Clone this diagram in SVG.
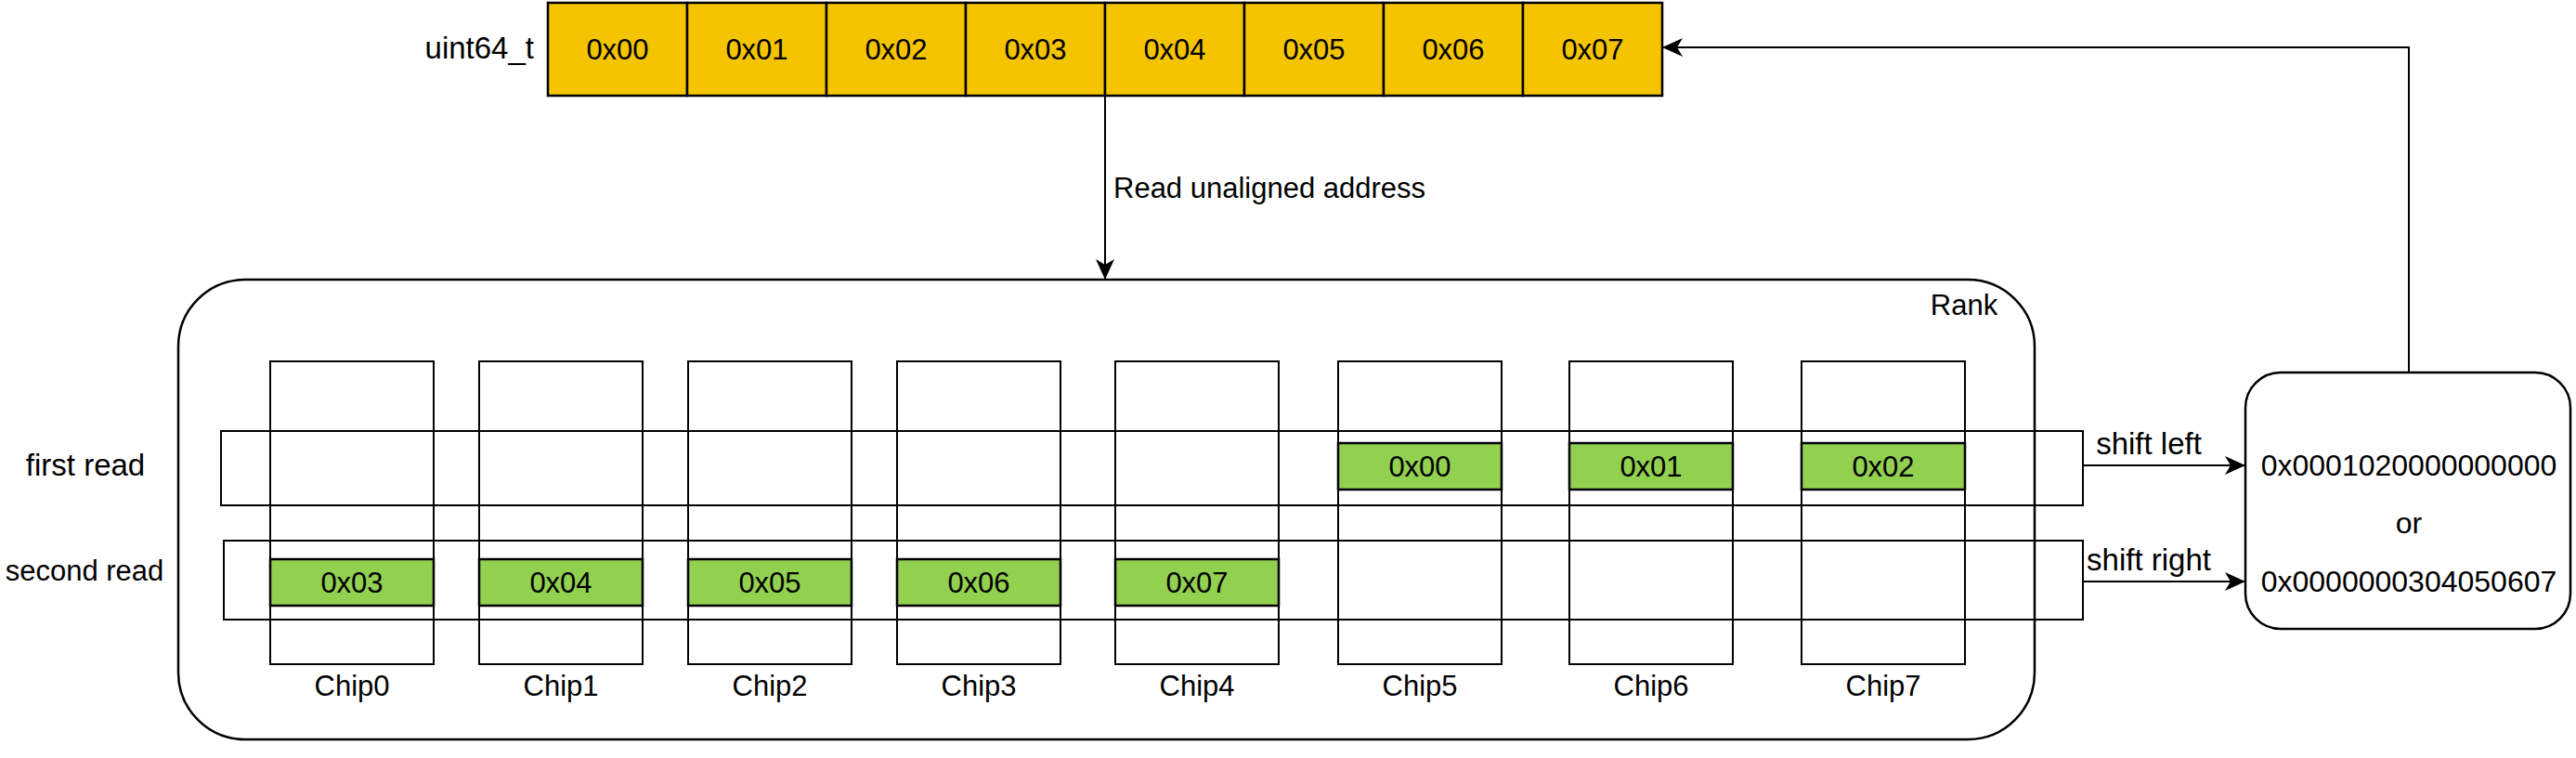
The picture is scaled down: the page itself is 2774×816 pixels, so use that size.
<svg xmlns="http://www.w3.org/2000/svg" width="2774" height="816" viewBox="0 0 2774 816">
<style>
text{font-family:"Liberation Sans",Arial,sans-serif;font-size:31px;fill:#000;dominant-baseline:central;text-anchor:middle}
.big{font-size:33px}
.mid{font-size:32px}
.cell{fill:#F5C400;stroke:#000;stroke-width:2.5}
.chip{fill:none;stroke:#000;stroke-width:2}
.row{fill:none;stroke:#000;stroke-width:2}
.g{fill:#92D050;stroke:#000;stroke-width:2.5}
.box{fill:#fff;stroke:#000;stroke-width:2.5}
.edge{fill:none;stroke:#000;stroke-width:2}
.l{text-anchor:start}
</style>
<defs>
<marker id="arr" viewBox="0 0 22 20" refX="22" refY="10" markerWidth="22" markerHeight="20" markerUnits="userSpaceOnUse" orient="auto">
<path d="M0,0 L22,10 L0,20 L6,10 Z" fill="#000"/>
</marker>
</defs>
<g id="uint64-label"><text class="big" x="575" y="51" style="text-anchor:end">uint64_t</text></g>
<g id="uint64">
<rect class="cell" x="590" y="3" width="150" height="100"/><text x="665" y="53">0x00</text>
<rect class="cell" x="740" y="3" width="150" height="100"/><text x="815" y="53">0x01</text>
<rect class="cell" x="890" y="3" width="150" height="100"/><text x="965" y="53">0x02</text>
<rect class="cell" x="1040" y="3" width="150" height="100"/><text x="1115" y="53">0x03</text>
<rect class="cell" x="1190" y="3" width="150" height="100"/><text x="1265" y="53">0x04</text>
<rect class="cell" x="1340" y="3" width="150" height="100"/><text x="1415" y="53">0x05</text>
<rect class="cell" x="1490" y="3" width="150" height="100"/><text x="1565" y="53">0x06</text>
<rect class="cell" x="1640" y="3" width="150" height="100"/><text x="1715" y="53">0x07</text>
</g>
<g id="rank">
<rect class="box" x="192" y="301" width="1999" height="495" rx="72" ry="72"/>
<text x="2115" y="328">Rank</text>
</g>
<g id="chips">
<g id="chip0"><rect class="chip" x="291" y="389" width="176" height="326"/><text x="379" y="738">Chip0</text></g>
<g id="chip1"><rect class="chip" x="516" y="389" width="176" height="326"/><text x="604" y="738">Chip1</text></g>
<g id="chip2"><rect class="chip" x="741" y="389" width="176" height="326"/><text x="829" y="738">Chip2</text></g>
<g id="chip3"><rect class="chip" x="966" y="389" width="176" height="326"/><text x="1054" y="738">Chip3</text></g>
<g id="chip4"><rect class="chip" x="1201" y="389" width="176" height="326"/><text x="1289" y="738">Chip4</text></g>
<g id="chip5"><rect class="chip" x="1441" y="389" width="176" height="326"/><text x="1529" y="738">Chip5</text></g>
<g id="chip6"><rect class="chip" x="1690" y="389" width="176" height="326"/><text x="1778" y="738">Chip6</text></g>
<g id="chip7"><rect class="chip" x="1940" y="389" width="176" height="326"/><text x="2028" y="738">Chip7</text></g>
</g>
<g id="first-read">
<rect class="row" x="238" y="464" width="2005" height="80"/>
<text class="big" x="92" y="500">first read</text>
<rect class="g" x="1441" y="477" width="176" height="50"/><text x="1529" y="502">0x00</text>
<rect class="g" x="1690" y="477" width="176" height="50"/><text x="1778" y="502">0x01</text>
<rect class="g" x="1940" y="477" width="176" height="50"/><text x="2028" y="502">0x02</text>
</g>
<g id="second-read">
<rect class="row" x="241" y="582" width="2002" height="85"/>
<text x="91" y="614">second read</text>
<rect class="g" x="291" y="602" width="176" height="50"/><text x="379" y="627">0x03</text>
<rect class="g" x="516" y="602" width="176" height="50"/><text x="604" y="627">0x04</text>
<rect class="g" x="741" y="602" width="176" height="50"/><text x="829" y="627">0x05</text>
<rect class="g" x="966" y="602" width="176" height="50"/><text x="1054" y="627">0x06</text>
<rect class="g" x="1201" y="602" width="176" height="50"/><text x="1289" y="627">0x07</text>
</g>
<g id="result">
<rect class="box" x="2418" y="401" width="350" height="276" rx="38" ry="38"/>
<text class="mid" x="2594" y="501">0x0001020000000000</text>
<text class="mid" x="2594" y="563">or</text>
<text class="mid" x="2594" y="626">0x0000000304050607</text>
</g>
<g id="connectors">
<path class="edge" d="M1190,103 L1190,301" marker-end="url(#arr)"/>
<text class="l" x="1199" y="202">Read unaligned address</text>
<path class="edge" d="M2243,501 L2418,501" marker-end="url(#arr)"/>
<text class="big" x="2314" y="477">shift left</text>
<path class="edge" d="M2243,626 L2418,626" marker-end="url(#arr)"/>
<text class="big" x="2314" y="602">shift right</text>
<path class="edge" d="M2594,401 L2594,51 L1790,51" marker-end="url(#arr)"/>
</g>
</svg>
